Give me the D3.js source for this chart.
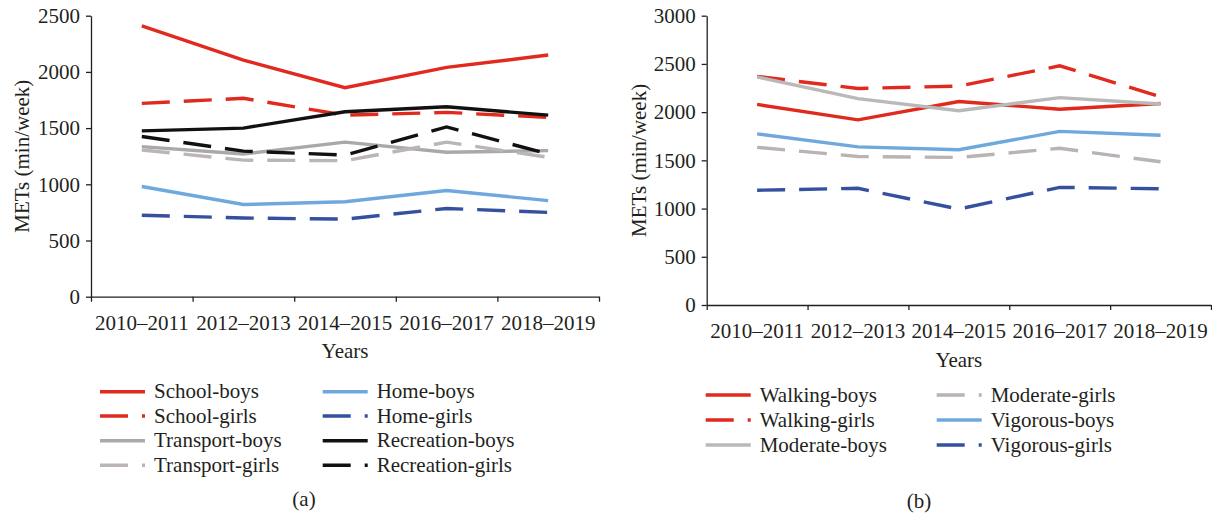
<!DOCTYPE html>
<html>
<head>
<meta charset="utf-8">
<script src="https://cdn.jsdelivr.net/npm/d3@7"></script>
<style>
 body { margin: 0; background: #fff; }
 svg text { font-family: "Liberation Serif", "DejaVu Serif", serif; fill: #231f20; }
</style>
</head>
<body>
<svg id="chart" width="1212" height="517"></svg>
<script>
const years = ["2010–2011", "2012–2013", "2014–2015", "2016–2017", "2018–2019"];

// panel (a): METs by domain
const schoolBoys = [2410, 2105, 1860, 2040, 2150];
const schoolGirls = [1720, 1765, 1615, 1640, 1595];
const transportBoys = [1335, 1270, 1375, 1285, 1300];
const transportGirls = [1305, 1215, 1210, 1375, 1240];
const homeBoys = [980, 820, 845, 945, 855];
const homeGirls = [725, 700, 690, 785, 750];
const recreationBoys = [1475, 1500, 1645, 1690, 1615];
const recreationGirls = [1425, 1295, 1260, 1510, 1270];
const ticksA = [0, 500, 1000, 1500, 2000, 2500];

// panel (b): METs by intensity
const walkingBoys = [2080, 1920, 2110, 2030, 2090];
const walkingGirls = [2370, 2245, 2270, 2480, 2160];
const moderateBoys = [2365, 2140, 2015, 2150, 2085];
const moderateGirls = [1635, 1540, 1530, 1625, 1485];
const vigorousBoys = [1775, 1640, 1610, 1800, 1760];
const vigorousGirls = [1190, 1210, 995, 1220, 1205];
const ticksB = [0, 500, 1000, 1500, 2000, 2500, 3000];

const red = "#e2291d", lightBlue = "#6fa8dc", darkBlue = "#34509f";
const DASH = "28,14";
const FS = 21;

const panelA = {
 x0: 91, x1: 599, yTop: 15.7, yBot: 296.7, max: 2500, ticks: ticksA,
 titleX: 29, label: "(a)", labelX: 304, labelY: 506,
 series: [
 { name: "School-boys", values: schoolBoys, color: red },
 { name: "School-girls", values: schoolGirls, color: red, dash: true },
 { name: "Transport-boys", values: transportBoys, color: "#a9a9a9" },
 { name: "Transport-girls", values: transportGirls, color: "#bcb5b5", dash: true },
 { name: "Home-boys", values: homeBoys, color: lightBlue },
 { name: "Home-girls", values: homeGirls, color: darkBlue, dash: true },
 { name: "Recreation-boys", values: recreationBoys, color: "#111" },
 { name: "Recreation-girls", values: recreationGirls, color: "#111", dash: true }
 ],
 legend: { cols: [100, 322.7], rows: [391.7, 416, 440.7, 465.3], perCol: 4 }
};

const panelB = {
 x0: 706.7, x1: 1211, yTop: 15.7, yBot: 305, max: 3000, ticks: ticksB,
 titleX: 646, label: "(b)", labelX: 919, labelY: 508,
 series: [
 { name: "Walking-boys", values: walkingBoys, color: red },
 { name: "Walking-girls", values: walkingGirls, color: red, dash: true },
 { name: "Moderate-boys", values: moderateBoys, color: "#b9b9b9" },
 { name: "Moderate-girls", values: moderateGirls, color: "#b9b3b3", dash: true },
 { name: "Vigorous-boys", values: vigorousBoys, color: lightBlue },
 { name: "Vigorous-girls", values: vigorousGirls, color: darkBlue, dash: true }
 ],
 legend: { cols: [705.7, 936.7], rows: [395, 420, 445], perCol: 3 }
};

const svg = d3.select("#chart");

function drawPanel(p) {
 const g = svg.append("g");
 const x = d3.scaleBand().domain(years).range([p.x0, p.x1]);
 const xEdge = d3.scaleLinear().domain([0, years.length]).range([p.x0, p.x1]);
 const y = d3.scaleLinear().domain([0, p.max]).range([p.yBot, p.yTop]);

 // x axis: tick marks at band edges
 g.append("g")
 .attr("transform", `translate(0,${p.yBot})`)
 .call(d3.axisBottom(xEdge).tickValues(d3.range(years.length + 1)).tickFormat("").tickSize(5).tickSizeOuter(0))
 .call(a => a.selectAll("line, path").attr("stroke", "#231f20").attr("stroke-width", 1.3));

 // x labels at band centres
 g.append("g")
 .attr("transform", `translate(0,${p.yBot})`)
 .call(d3.axisBottom(x).tickSize(0).tickPadding(18))
 .call(a => a.select(".domain").remove())
 .call(a => a.selectAll("text").attr("font-size", FS).attr("font-family", null));

 // y axis
 g.append("g")
 .attr("transform", `translate(${p.x0},0)`)
 .call(d3.axisLeft(y).tickValues(p.ticks).tickFormat(d3.format("d")).tickSize(5).tickSizeOuter(0).tickPadding(6))
 .call(a => a.selectAll("line, path").attr("stroke", "#231f20").attr("stroke-width", 1.3))
 .call(a => a.selectAll("text").attr("font-size", FS).attr("font-family", null));

 g.append("text")
 .attr("transform", `translate(${p.titleX},${(p.yTop + p.yBot) / 2}) rotate(-90)`)
 .attr("text-anchor", "middle")
 .attr("font-size", FS)
 .text("METs (min/week)");

 g.append("text")
 .attr("x", (p.x0 + p.x1) / 2)
 .attr("y", p.yBot + 61.5)
 .attr("text-anchor", "middle")
 .attr("font-size", FS)
 .text("Years");

 const line = d3.line()
 .x((d, i) => x(years[i]) + x.bandwidth() / 2)
 .y(d => y(d));

 g.selectAll("path.series")
 .data(p.series)
 .enter()
 .append("path")
 .attr("class", "series")
 .attr("d", s => line(s.values))
 .attr("fill", "none")
 .attr("stroke", s => s.color)
 .attr("stroke-width", 3.4)
 .attr("stroke-dasharray", s => s.dash ? DASH : null);

 // legend
 const items = g.selectAll("g.legend")
 .data(p.series)
 .enter()
 .append("g")
 .attr("class", "legend")
 .attr("transform", (s, i) => `translate(${p.legend.cols[Math.floor(i / p.legend.perCol)]},${p.legend.rows[i % p.legend.perCol]})`);

 items.append("line")
 .attr("x1", 0).attr("x2", 45)
 .attr("stroke", s => s.color)
 .attr("stroke-width", 3.6)
 .attr("stroke-dasharray", s => s.dash ? DASH : null);

 items.append("text")
 .attr("x", 54)
 .attr("y", 6.5)
 .attr("font-size", FS)
 .text(s => s.name);

 g.append("text")
 .attr("x", p.labelX)
 .attr("y", p.labelY)
 .attr("text-anchor", "middle")
 .attr("font-size", FS)
 .text(p.label);
}

drawPanel(panelA);
drawPanel(panelB);
</script>
</body>
</html>
